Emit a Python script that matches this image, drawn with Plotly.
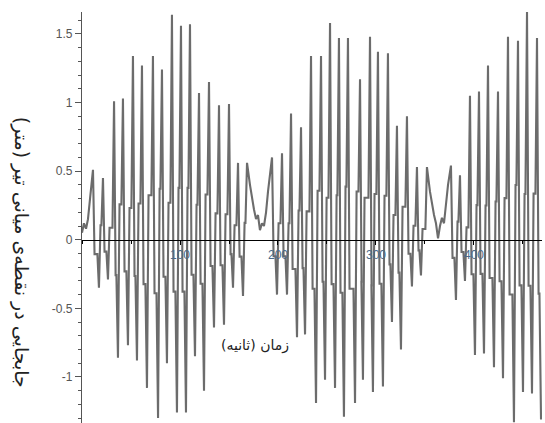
import plotly.graph_objects as go

# Mid-span displacement of the beam (m) against time (s).
# Oscillating stretches: successive crests and troughs.
peak_t = [11.2, 17.3, 21.4, 26.5, 32.7, 36.7, 41.8, 46.9, 52, 56.1,
          61.2, 66.3, 72.4, 77.6, 81.6, 86.7, 91.8, 96.9, 101, 106.1, 110.2, 115.3, 119.4,
          124.5, 129.6, 134.7, 139.8, 144.9, 150, 154.1, 159.2, 164.3, 168.4,
          193.9, 199, 204.1, 209.2, 213.3, 219.4, 223.5, 227.6, 233.7, 238.8, 243.9, 248,
          253.1, 258.2, 262.2, 267.3, 271.4, 278.6, 283.7, 286.7, 293.9, 296.9, 302, 307.1,
          312.2, 316.3, 321.4, 325.5, 331.6, 336.7, 341.8, 345.9, 352,
          376.5, 381.6, 385.7, 390.8, 395.9, 401, 405.1, 410.2, 414.3, 420.4, 424.5, 429.6,
          434.7, 440.8, 444.9, 450, 454.1, 459.2, 464.3, 468.4]
peak_v = [0.51, -0.35, 0.45, -0.29, 1.01, -0.86, 1.03, -0.77, 1.34, -0.88,
          1.27, -1.08, 1.34, -1.30, 1.24, -0.90, 1.64, -1.26, 1.56, -1.26, 1.57, -0.85, 1.07,
          -1.10, 1.15, -0.64, 0.98, -0.62, 0.99, -0.35, 0.56, -0.41, 0.56,
          0.60, -0.40, 0.63, -0.40, 0.92, -0.71, 0.82, -0.69, 1.34, -1.19, 1.34, -1.02,
          1.58, -1.08, 1.47, -1.29, 1.47, -1.19, 1.17, -1.02, 1.48, -1.11, 1.37, -1.07,
          1.36, -0.60, 0.83, -0.80, 0.90, -0.34, 0.53, -0.26, 0.53,
          0.54, -0.44, 0.47, -0.30, 1.05, -0.84, 1.08, -0.83, 1.27, -0.93, 1.08, -1.01,
          1.48, -1.33, 1.45, -1.11, 1.66, -1.12, 1.47, -1.31]

# Quiet stretches between the beats
calm_t = [0, 2, 4.1, 6.1, 8.2,
          171.4, 173.5, 175.5, 177.6, 179.6, 181.6, 183.7, 185.7, 187.8, 189.8, 191.8,
          355.1, 357.1, 359.2, 361.2, 363.3, 365.3, 367.3, 369.4, 371.4, 373.5]
calm_v = [0.05, 0.12, 0.08, 0.15, 0.30,
          0.40, 0.30, 0.22, 0.15, 0.18, 0.07, 0.12, 0.10, 0.20, 0.35, 0.50,
          0.35, 0.25, 0.18, 0.12, 0.01, 0.10, 0.16, 0.12, 0.25, 0.40]

x_ticks = [100, 200, 300, 400]
y_ticks = [-1, -0.5, 0, 0.5, 1, 1.5]
y_tick_text = ["-1", "-0.5", "0", "0.5", "1", "1.5"]

x_range = [0, 469.4]
y_range = [-1.336, 1.66]

# Between two neighbouring extremes the trace dips past the axis and steps
# across, so every crest/trough reads as a narrow, near-vertical stroke.
HALF = 1.6
OVERSHOOT = 0.3
pts = sorted([(t, v, False) for t, v in zip(calm_t, calm_v)] +
             [(t, v, True) for t, v in zip(peak_t, peak_v)], key=lambda p: p[0])
xs, ys = [], []
for i, (t, v, stroke) in enumerate(pts):
    xs.append(t)
    ys.append(v)
    if stroke and i + 1 < len(pts) and pts[i + 1][2]:
        t2, v2, _ = pts[i + 1]
        level = -OVERSHOOT * min(abs(v), abs(v2)) * (1 if v > 0 else -1)
        xs += [t + HALF, t2 - HALF]
        ys += [level, level]

fig = go.Figure()
fig.add_trace(go.Scatter(x=xs, y=ys, mode="lines",
                         line=dict(color="#6c6c6c", width=2.1), showlegend=False))

# horizontal axis crosses the vertical one at zero displacement
zero_pos = (0 - y_range[0]) / (y_range[1] - y_range[0])

fig.update_layout(
    width=545, height=423,
    margin=dict(l=82, r=3, t=12, b=0),
    paper_bgcolor="white", plot_bgcolor="white",
    xaxis=dict(range=x_range, anchor="free", position=zero_pos,
               showline=True, linecolor="black", linewidth=1.3,
               tickvals=x_ticks, ticks="outside", ticklen=4, tickcolor="black",
               showgrid=False, zeroline=False,
               minor=dict(dtick=50, tick0=0, ticks="outside", ticklen=3, tickcolor="black"),
               tickfont=dict(family="Liberation Sans", size=12, color="#4a6a8a")),
    yaxis=dict(range=y_range, showline=True, linecolor="#555", linewidth=1.3,
               tickvals=y_ticks, ticktext=y_tick_text, ticks="outside", ticklen=6,
               tickcolor="#555", showgrid=False, zeroline=False,
               minor=dict(dtick=0.1, tick0=0, ticks="outside", ticklen=3, tickcolor="#555"),
               tickfont=dict(family="Liberation Sans", size=12, color="#555")),
)

fig.add_annotation(text="جابجایی در نقطه‌ی میانی تیر (متر)", xref="paper", yref="paper",
                   x=-0.13, y=0.416, xanchor="center", yanchor="middle", textangle=90,
                   showarrow=False, font=dict(family="DejaVu Sans", size=19, color="#222"))
fig.add_annotation(text="زمان (ثانیه)", x=177, y=-0.77, xanchor="center", yanchor="middle",
                   showarrow=False, font=dict(family="DejaVu Sans", size=14, color="#222"))

fig.write_html("out.html")
